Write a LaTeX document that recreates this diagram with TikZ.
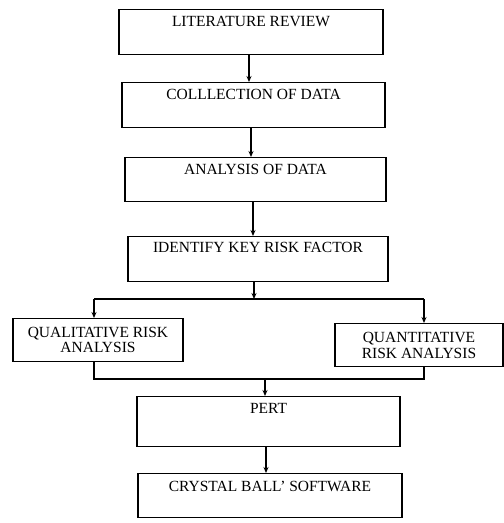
\documentclass[tikz,border=0pt]{standalone}
\usepackage{fontspec}
\setmainfont{Liberation Serif}
\usetikzlibrary{arrows.meta}
\begin{document}
\begin{tikzpicture}[x=1pt,y=-1pt,
  every node/.style={font=\fontsize{15.5}{15.5}\selectfont},
  mainbox/.style={draw,line width=1.1pt,inner sep=0pt,text height=17pt,text depth=28pt,anchor=north},
  sidebox/.style={draw,line width=1.1pt,inner sep=0pt,align=center,anchor=north},
  arr/.style={line width=1.1pt,-{Stealth[length=6pt,width=5pt]}},
  ln/.style={line width=1.1pt}]
\useasboundingbox (0,0) rectangle (504,523);
\node[mainbox,minimum width=264pt] (b1) at (251,9) {LITERATURE REVIEW};
\node[mainbox,minimum width=263pt] (b2) at (253.5,82) {COLLLECTION OF DATA};
\node[mainbox,minimum width=261pt,text depth=27pt] (b3) at (255.5,157) {ANALYSIS OF DATA};
\node[mainbox,minimum width=260pt,text height=16pt,text depth=29pt] (b4) at (258,236) {IDENTIFY KEY RISK FACTOR};
\node[sidebox,minimum width=170pt,minimum height=43pt] (qual) at (98,318) {QUALITATIVE RISK\\[-0.5pt]ANALYSIS};
\node[sidebox,minimum width=168pt,minimum height=43pt] (quant) at (419,323) {QUANTITATIVE\\[0.5pt]RISK ANALYSIS};
\node[mainbox,minimum width=263pt,text depth=33pt] (pert) at (268.5,396) {PERT};
\node[mainbox,minimum width=264pt,text height=18pt,text depth=26pt] (cb) at (270,473) {CRYSTAL BALL’ SOFTWARE};
\coordinate (j1) at (254,299);
\coordinate (jl) at (94,299);
\coordinate (jr) at (424,299);
\coordinate (j2) at (265,379);
\draw[arr] (b1.south -| 249,0) -- (b2.north -| 249,0);
\draw[arr] (b2.south -| 251,0) -- (b3.north -| 251,0);
\draw[arr] (b3.south -| 253,0) -- (b4.north -| 253,0);
\draw[arr] (b4.south -| j1) -- (j1);
\draw[ln] (jl) -- (jr);
\draw[arr] (jl) -- (jl |- qual.north);
\draw[arr] (jr) -- (jr |- quant.north);
\draw[ln] (qual.south -| jl) |- (j2) -| (quant.south -| jr);
\draw[arr] (j2) -- (j2 |- pert.north);
\draw[arr] (pert.south -| 266,0) -- (cb.north -| 266,0);
\end{tikzpicture}
\end{document}
